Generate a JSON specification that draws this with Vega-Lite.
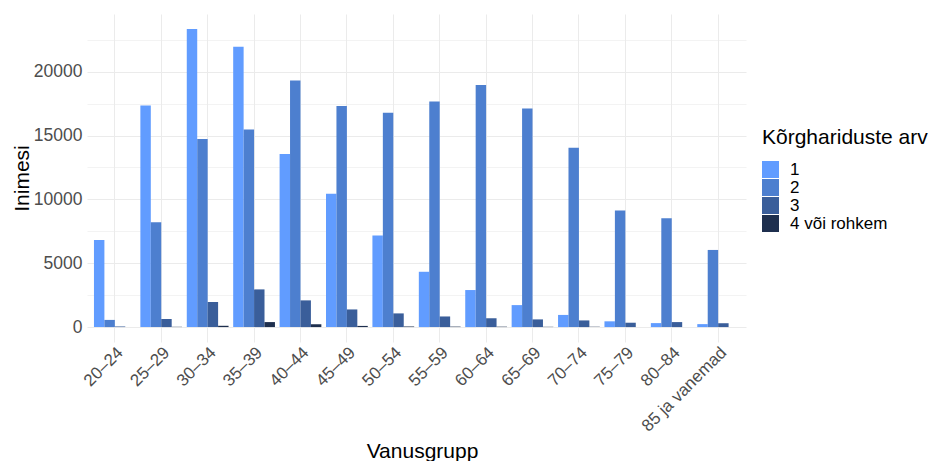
{
  "$schema": "https://vega.github.io/schema/vega-lite/v6.json",
  "width": 659,
  "height": 328,
  "autosize": {"type": "none"},
  "padding": {"left": 87, "top": 14, "right": 184, "bottom": 119},
  "background": "white",
  "config": {
    "font": "Liberation Sans",
    "view": {"stroke": null}
  },
  "data": {
    "values": [
      {"grupp": "20–24", "arv": "1", "n": 6820},
      {"grupp": "20–24", "arv": "2", "n": 560},
      {"grupp": "20–24", "arv": "3", "n": 45},
      {"grupp": "25–29", "arv": "1", "n": 17360},
      {"grupp": "25–29", "arv": "2", "n": 8210},
      {"grupp": "25–29", "arv": "3", "n": 630},
      {"grupp": "25–29", "arv": "4 või rohkem", "n": 20},
      {"grupp": "30–34", "arv": "1", "n": 23350},
      {"grupp": "30–34", "arv": "2", "n": 14720},
      {"grupp": "30–34", "arv": "3", "n": 1970},
      {"grupp": "30–34", "arv": "4 või rohkem", "n": 100},
      {"grupp": "35–39", "arv": "1", "n": 21960},
      {"grupp": "35–39", "arv": "2", "n": 15470},
      {"grupp": "35–39", "arv": "3", "n": 2950},
      {"grupp": "35–39", "arv": "4 või rohkem", "n": 390},
      {"grupp": "40–44", "arv": "1", "n": 13550},
      {"grupp": "40–44", "arv": "2", "n": 19320},
      {"grupp": "40–44", "arv": "3", "n": 2090},
      {"grupp": "40–44", "arv": "4 või rohkem", "n": 220},
      {"grupp": "45–49", "arv": "1", "n": 10450},
      {"grupp": "45–49", "arv": "2", "n": 17320},
      {"grupp": "45–49", "arv": "3", "n": 1380},
      {"grupp": "45–49", "arv": "4 või rohkem", "n": 90},
      {"grupp": "50–54", "arv": "1", "n": 7180},
      {"grupp": "50–54", "arv": "2", "n": 16780},
      {"grupp": "50–54", "arv": "3", "n": 1070},
      {"grupp": "50–54", "arv": "4 või rohkem", "n": 45},
      {"grupp": "55–59", "arv": "1", "n": 4330},
      {"grupp": "55–59", "arv": "2", "n": 17660},
      {"grupp": "55–59", "arv": "3", "n": 830},
      {"grupp": "55–59", "arv": "4 või rohkem", "n": 35},
      {"grupp": "60–64", "arv": "1", "n": 2900},
      {"grupp": "60–64", "arv": "2", "n": 18960},
      {"grupp": "60–64", "arv": "3", "n": 690},
      {"grupp": "60–64", "arv": "4 või rohkem", "n": 30},
      {"grupp": "65–69", "arv": "1", "n": 1720},
      {"grupp": "65–69", "arv": "2", "n": 17110},
      {"grupp": "65–69", "arv": "3", "n": 600},
      {"grupp": "65–69", "arv": "4 või rohkem", "n": 20},
      {"grupp": "70–74", "arv": "1", "n": 950},
      {"grupp": "70–74", "arv": "2", "n": 14040},
      {"grupp": "70–74", "arv": "3", "n": 520},
      {"grupp": "70–74", "arv": "4 või rohkem", "n": 15},
      {"grupp": "75–79", "arv": "1", "n": 450},
      {"grupp": "75–79", "arv": "2", "n": 9120},
      {"grupp": "75–79", "arv": "3", "n": 340},
      {"grupp": "80–84", "arv": "1", "n": 310},
      {"grupp": "80–84", "arv": "2", "n": 8520},
      {"grupp": "80–84", "arv": "3", "n": 390},
      {"grupp": "85 ja vanemad", "arv": "1", "n": 230},
      {"grupp": "85 ja vanemad", "arv": "2", "n": 6040},
      {"grupp": "85 ja vanemad", "arv": "3", "n": 300}
    ]
  },
  "mark": {"type": "bar"},
  "encoding": {
    "x": {
      "field": "grupp",
      "type": "nominal",
      "sort": null,
      "scale": {"paddingInner": 0.1, "paddingOuter": 0.15},
      "axis": {
        "title": "Vanusgrupp",
        "titleFontSize": 21,
        "titleFontWeight": "normal",
        "titleColor": "black",
        "titleY": 115,
        "titleX": 335,
        "titleAlign": "center",
        "titleBaseline": "alphabetic",
        "labelAngle": -45,
        "labelAlign": "right",
        "labelBaseline": "top",
        "labelFontSize": 17,
        "labelColor": "#4D4D4D",
        "labelPadding": 2,
        "ticks": false,
        "domain": false,
        "grid": true,
        "bandPosition": 0.5,
        "gridColor": "#EBEBEB",
        "gridWidth": 1
      }
    },
    "xOffset": {
      "field": "arv",
      "type": "nominal",
      "scale": {"domain": ["1", "2", "3", "4 või rohkem"], "paddingInner": 0, "paddingOuter": 0}
    },
    "y": {
      "field": "n",
      "type": "quantitative",
      "scale": {"domain": [-1170, 24520], "nice": false, "zero": false},
      "axis": {
        "title": "Inimesi",
        "titleFontSize": 21,
        "titleFontWeight": "normal",
        "titleColor": "black",
        "titleX": -59,
        "titleBaseline": "alphabetic",
        "values": [0, 2500, 5000, 7500, 10000, 12500, 15000, 17500, 20000, 22500],
        "format": "d",
        "labelExpr": "datum.value % 5000 === 0 ? datum.label : ''",
        "labelFontSize": 17.5,
        "labelColor": "#4D4D4D",
        "labelPadding": 5,
        "ticks": false,
        "domain": false,
        "grid": true,
        "gridColor": "#EBEBEB",
        "gridWidth": {"condition": {"test": "datum.value % 5000 === 0", "value": 1.2}, "value": 0.6}
      }
    },
    "color": {
      "field": "arv",
      "type": "nominal",
      "scale": {
        "domain": ["1", "2", "3", "4 või rohkem"],
        "range": ["#619CFF", "#4D7FCF", "#3A5E9A", "#1E2F4E"]
      },
      "legend": {
        "title": "Kõrghariduste arv",
        "orient": "none",
        "legendX": 675,
        "legendY": 113,
        "titleFontSize": 21,
        "titleFontWeight": "normal",
        "titleColor": "black",
        "titlePadding": 13,
        "symbolType": "square",
        "symbolSize": 289,
        "symbolStrokeWidth": 0,
        "symbolOpacity": 1,
        "rowPadding": 0,
        "labelFontSize": 17,
        "labelColor": "black",
        "labelOffset": 11,
        "padding": 0
      }
    }
  }
}
